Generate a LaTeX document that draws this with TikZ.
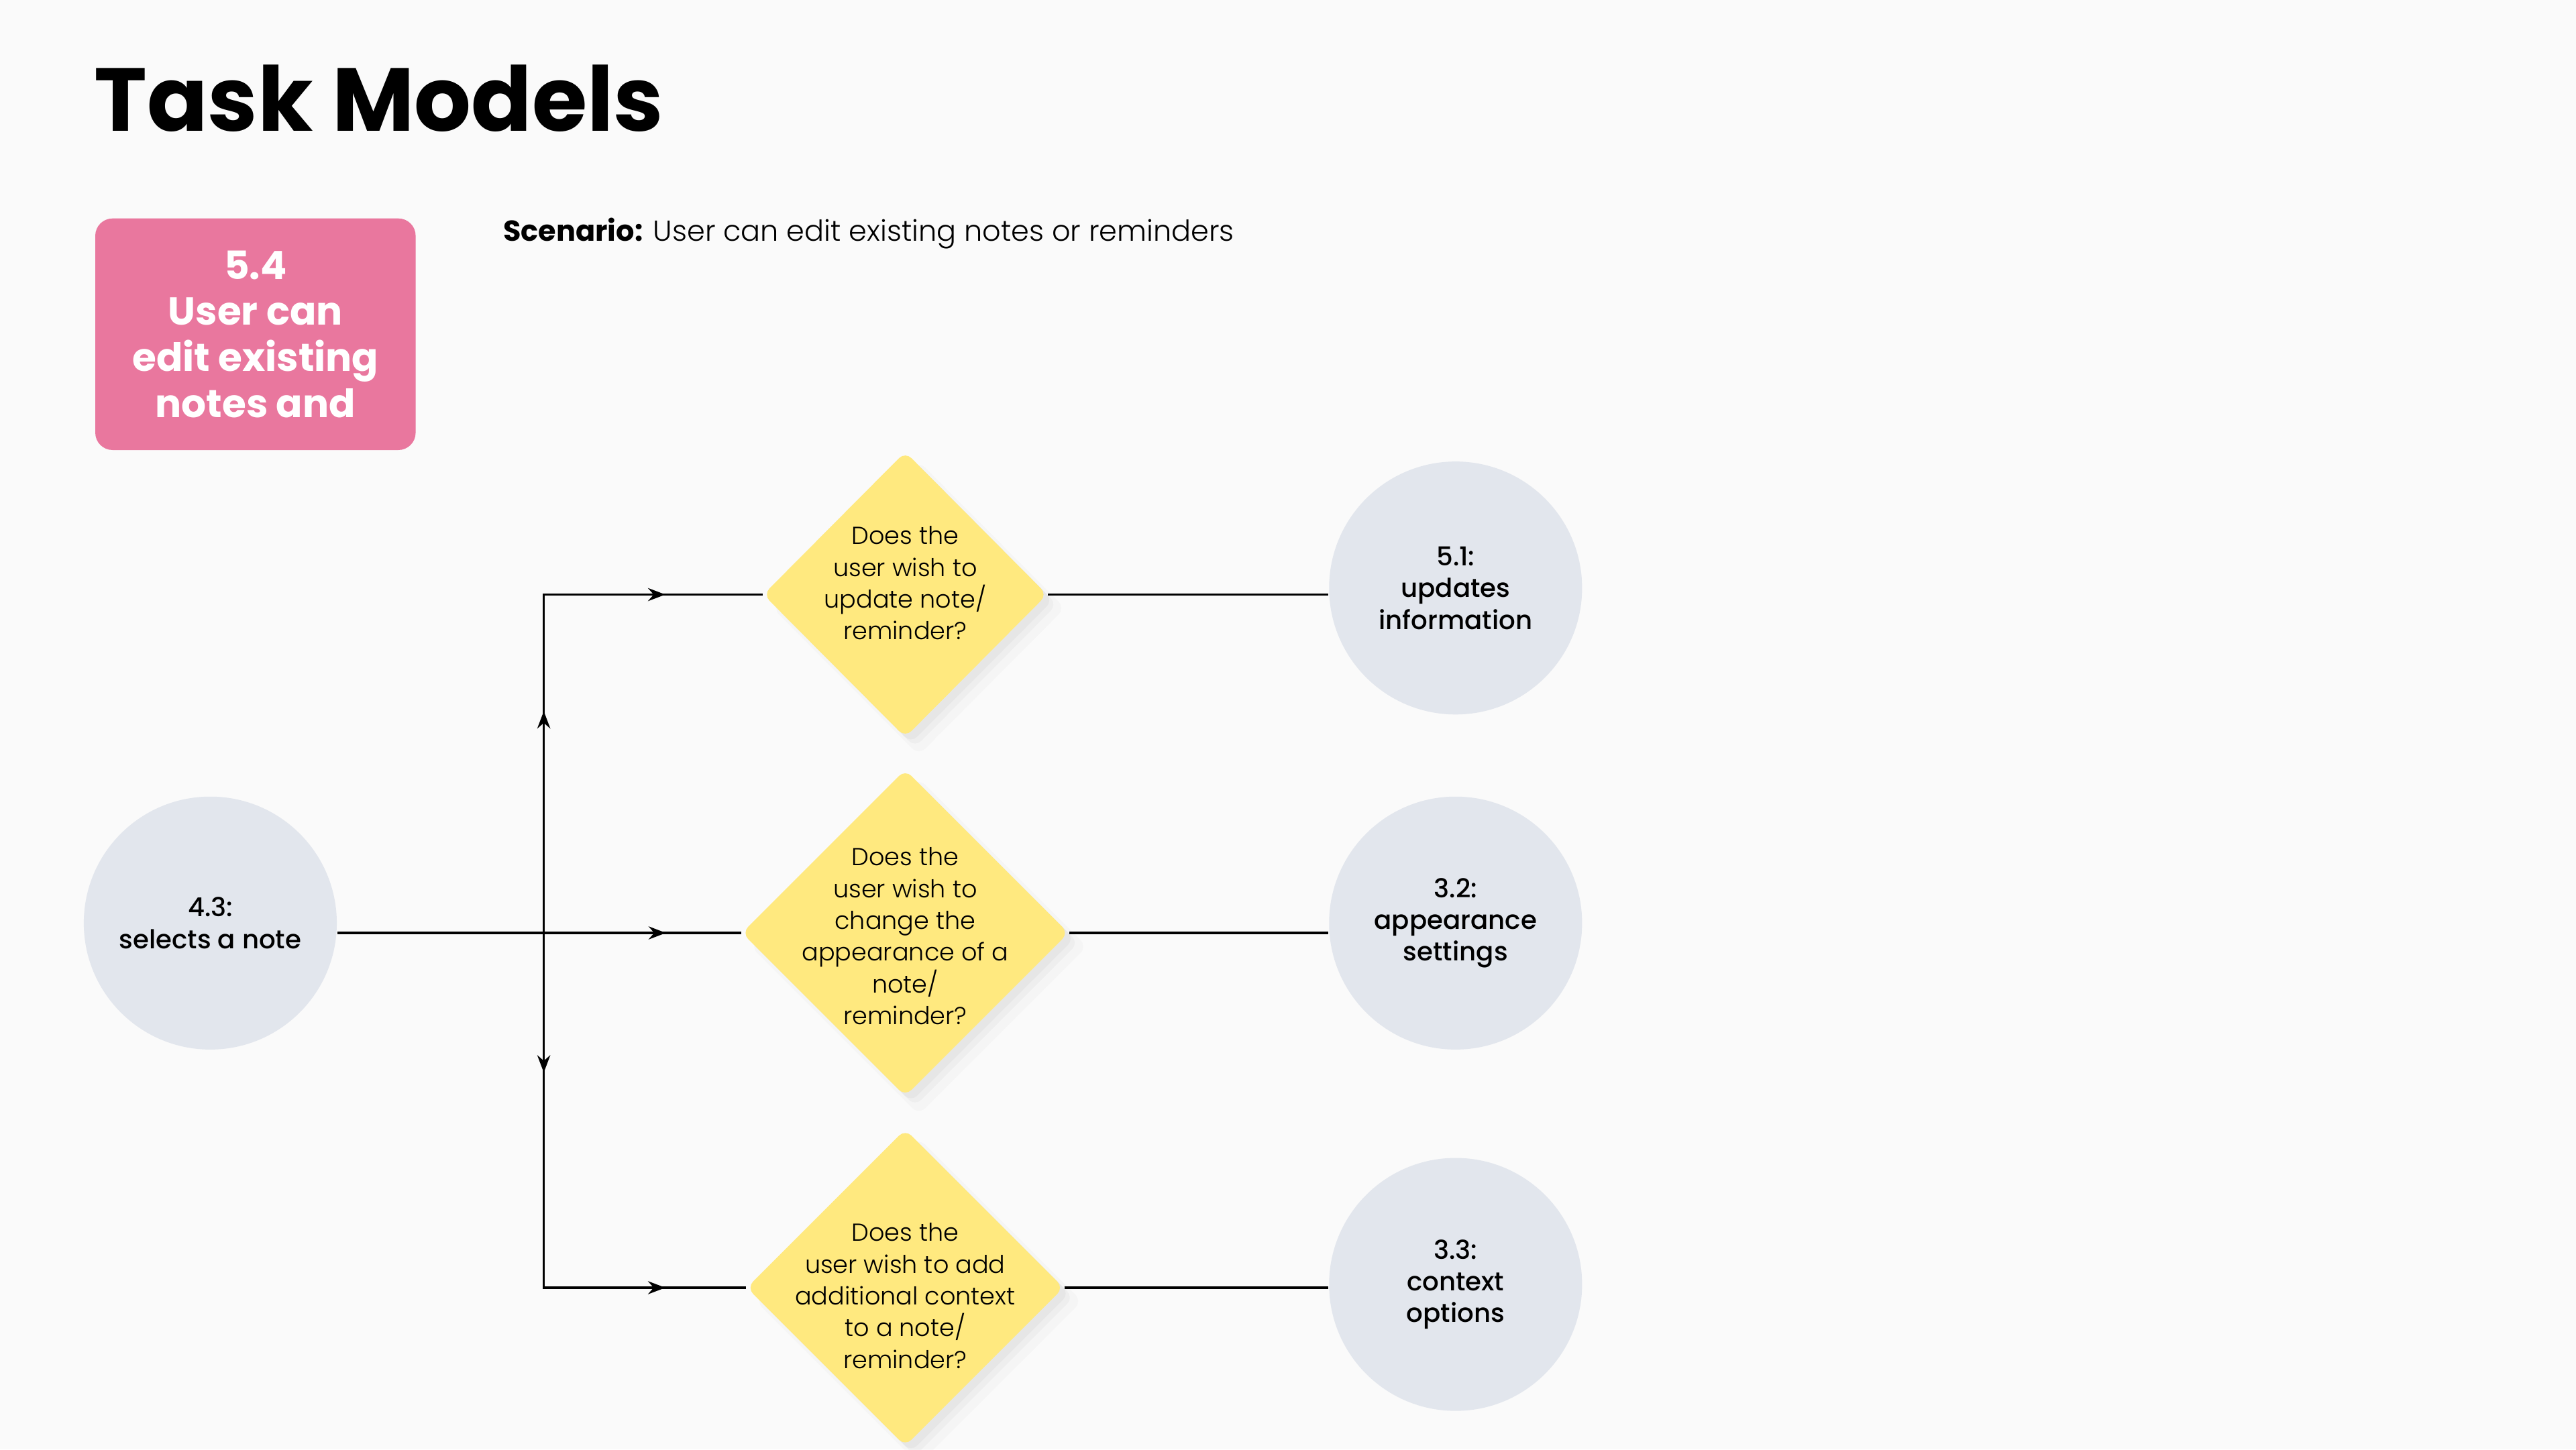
\documentclass[tikz,border=0pt]{standalone}
\usepackage{fontspec}
\setmainfont{Poppins}
\newfontfamily\medfont{Poppins Medium}
\newfontfamily\lightfont{Poppins Light}
\usepackage{xcolor}
\usepackage{tikz}
\usetikzlibrary{calc}
\usetikzlibrary{shapes.geometric}
\usetikzlibrary{positioning}
\usetikzlibrary{arrows.meta}
\usetikzlibrary{decorations.markings}
\usetikzlibrary{shadows}

\definecolor{bgcol}{HTML}{FAFAFA}
\definecolor{taskpink}{HTML}{E9779E}
\definecolor{askyellow}{HTML}{FFE97F}
\definecolor{stepgrey}{HTML}{E2E6ED}

\begin{document}
\begin{tikzpicture}[
		taskbox/.style={rectangle, fill=taskpink, rounded corners=6pt, minimum width=3.9cm, minimum height=2.82cm, align=center, text=white, font=\bfseries\fontsize{13.5}{16}\selectfont},
		decision/.style={diamond, fill=askyellow, rounded corners=3pt,
			drop shadow={opacity=0.04, shadow xshift=0.16cm, shadow yshift=-0.16cm, shadow scale=1.03},
			drop shadow={opacity=0.06, shadow xshift=0.12cm, shadow yshift=-0.12cm},
			drop shadow={opacity=0.07, shadow xshift=0.07cm, shadow yshift=-0.07cm}},
		question/.style={align=center, inner sep=0pt, font=\lightfont\fontsize{8.5}{11}\selectfont},
		subtask/.style={circle, fill=stepgrey, minimum size=3.08cm, align=center, font=\medfont\fontsize{9}{11}\selectfont},
		flow/.style={line width=0.8pt},
		arrowat/.style={postaction={decorate, decoration={markings, mark=at position #1 with {\arrow{Stealth[length=6pt,width=4.5pt]}}}}}
		]
		
		% Фон и рамка
		\useasboundingbox (0,0) rectangle (31.36,-17.65);
		\fill[bgcol] (0,0) rectangle (31.36,-17.65);
		
		% Заголовок и сценарий
		\node[anchor=base west, inner sep=0pt, font=\bfseries\fontsize{31}{36}\selectfont] (title) at (1.14,-1.6) {Task Models};
		\node[taskbox] (task) at (3.11,-4.07) {5.4\\User can\\edit existing\\notes and};
		\node[anchor=base west, inner sep=0pt, font=\lightfont\fontsize{10}{12}\selectfont] (scenario) at (6.12,-2.94) {{\normalfont\bfseries\fontsize{10}{12}\selectfont Scenario:} User can edit existing notes or reminders};
		
		% Вопросы
		\node[decision, minimum width=3.46cm, minimum height=3.48cm] (d1) at (11.02,-7.24) {};
		\node[decision, minimum width=3.98cm, minimum height=3.98cm] (d2) at (11.02,-11.36) {};
		\node[decision, minimum width=3.86cm, minimum height=3.86cm] (d3) at (11.02,-15.68) {};
		\node[question] (q1) at ([yshift=0.14cm]d1) {Does the\\user wish to\\update note/\\reminder?};
		\node[question] (q2) at ([yshift=-0.04cm]d2) {Does the\\user wish to\\change the\\appearance of a\\note/\\reminder?};
		\node[question] (q3) at ([yshift=-0.1cm]d3) {Does the\\user wish to add\\additional context\\to a note/\\reminder?};
		
		% Подзадачи
		\node[subtask] (c0) at (2.56,-11.24) {4.3:\\selects a note};
		\node[subtask] (c1) at (17.72,-7.16) {5.1:\\updates\\information};
		\node[subtask] (c2) at (17.72,-11.24) {3.2:\\appearance\\settings};
		\node[subtask] (c3) at (17.72,-15.64) {3.3:\\context\\options};
		
		% Развилка
		\coordinate (jn) at (6.62,-11.36);
		\draw[flow, arrowat=4cm] (c0.east |- d2) -- (d2.west);
		\draw[flow, arrowat=2.7cm, arrowat=5.6cm] (jn) -- (jn |- d1) -- (d1.west);
		\draw[flow, arrowat=1.7cm, arrowat=5.8cm] (jn) -- (jn |- d3) -- (d3.west);
		
		% Линии к подзадачам
		\draw[flow] (d1.east) -- (d1.east -| c1.west);
		\draw[flow] (d2.east) -- (d2.east -| c2.west);
		\draw[flow] (d3.east) -- (d3.east -| c3.west);
		
	\end{tikzpicture}
\end{document}
